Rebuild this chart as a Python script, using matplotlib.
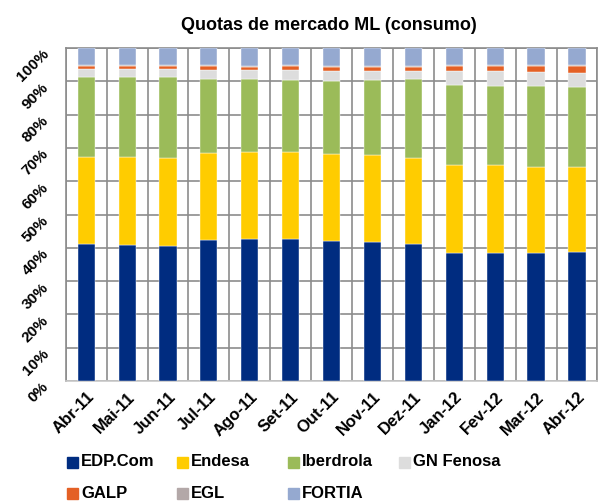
import numpy as np
import matplotlib.pyplot as plt
from matplotlib.patches import Rectangle
from matplotlib.transforms import ScaledTranslation

plt.rcParams['font.family'] = ['Liberation Sans Narrow', 'Liberation Sans', 'DejaVu Sans']
plt.rcParams['font.weight'] = 'bold'

months = ['Abr-11', 'Mai-11', 'Jun-11', 'Jul-11', 'Ago-11', 'Set-11', 'Out-11',
          'Nov-11', 'Dez-11', 'Jan-12', 'Fev-12', 'Mar-12', 'Abr-12']

edp = [41.1, 40.8, 40.5, 42.4, 42.7, 42.7, 42.1, 41.8, 41.1, 38.3, 38.3, 38.3, 38.6]
endesa = [26.2, 26.5, 26.5, 26.2, 26.2, 26.2, 26.2, 26.1, 25.9, 26.5, 26.5, 26.1, 25.6]
iberdrola = [24.1, 24.1, 24.4, 22.1, 21.8, 21.5, 21.8, 22.6, 23.8, 24.2, 23.8, 24.2, 24.0]
gn_fenosa = [2.3, 2.3, 2.3, 2.6, 2.6, 3.0, 3.0, 2.6, 2.3, 4.1, 4.5, 4.1, 4.2]
galp = [1.0, 1.0, 1.0, 1.4, 1.1, 1.3, 1.3, 1.3, 1.3, 1.6, 1.6, 2.0, 2.3]
egl = [0.1] * 13
fortia = [5.2, 5.2, 5.3, 5.2, 5.5, 5.2, 5.5, 5.5, 5.5, 5.2, 5.2, 5.2, 5.1]

names = ['EDP.Com', 'Endesa', 'Iberdrola', 'GN Fenosa', 'GALP', 'EGL', 'FORTIA']
series = [edp, endesa, iberdrola, gn_fenosa, galp, egl, fortia]
colors = ['#002C80', '#FFCC00', '#9BBB59', '#DDDDDD', '#E46025', '#B3A8A8', '#95A9D0']


def main():
    fig = plt.figure(figsize=(5.98, 5.03), dpi=100)
    ax = fig.add_axes([0.110, 0.2425, 0.889, 0.662])

    x = np.arange(len(months))
    bottom = np.zeros(len(months))
    for vals, c in zip(series, colors):
        v = np.array(vals) / 100.0
        ax.bar(x, v, 0.42, bottom=bottom, color=c, edgecolor='white',
               linewidth=0.3, zorder=3)
        bottom += v

    ax.set_xlim(-0.5, len(months) - 0.5)
    ax.set_ylim(0, 1)
    ax.set_yticks(np.linspace(0, 1, 11))
    ax.set_yticklabels(['%d%%' % p for p in range(0, 101, 10)],
                       rotation=45, fontsize=11, fontweight='bold',
                       ha='right', va='center', rotation_mode='anchor')
    ax.set_xticks(x)
    ax.set_xticklabels(months, rotation=45, ha='right', rotation_mode='anchor',
                       fontsize=12, fontweight='bold')
    ax.set_xticks(np.arange(-0.5, len(months)), minor=True)
    ax.tick_params(axis='both', which='both', length=0)
    ax.tick_params(axis='x', pad=6)
    ax.tick_params(axis='y', pad=14)

    # y labels in the original hang a little below their gridline
    shift = ScaledTranslation(0, -4 / 100.0, fig.dpi_scale_trans)
    for lab in ax.get_yticklabels():
        lab.set_transform(lab.get_transform() + shift)

    ax.grid(axis='y', which='major', color='#8c8c8c', linewidth=1.2, zorder=0)
    ax.grid(axis='x', which='minor', color='#8c8c8c', linewidth=1.2, zorder=0)
    for s in ax.spines.values():
        s.set_color('#8c8c8c')
        s.set_linewidth(1.2)
    ax.spines['bottom'].set_color('#c8c8c8')

    fig.text(0.55, 1 - 26 / 503.0, 'Quotas de mercado ML (consumo)', ha='center',
             va='center', fontsize=13, fontweight='bold')

    # legend drawn in fixed columns like the spreadsheet one
    W, H = 598.0, 503.0
    col_x = [67, 177, 288, 399]
    row_y = [462, 493]
    for i, (n, c) in enumerate(zip(names, colors)):
        cx = col_x[i % 4]
        cy = row_y[i // 4]
        fig.add_artist(Rectangle((cx / W, 1 - (cy + 5.5) / H), 11 / W, 11 / H,
                                 transform=fig.transFigure, color=c))
        fig.text((cx + 14) / W, 1 - cy / H, n, ha='left', va='center',
                 fontsize=12, fontweight='bold')

    fig.savefig('out.png', dpi=100)


if __name__ == '__main__':
    main()
